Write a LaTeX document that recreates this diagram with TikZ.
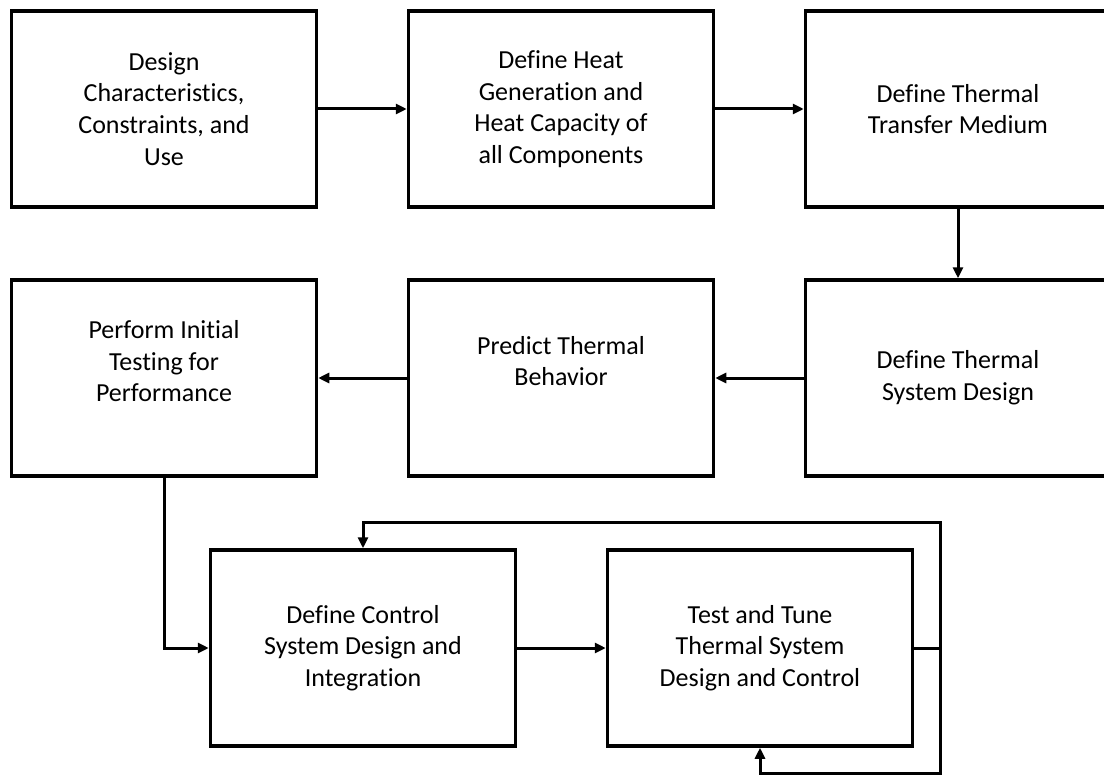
\documentclass[tikz,border=0pt]{standalone}
\usepackage{fontspec}
\setmainfont{Carlito}[Ligatures=NoCommon]
\usepackage{tikz}
\usetikzlibrary{arrows.meta}

\begin{document}
\begin{tikzpicture}[x=1pt, y=-1pt, ->, >={Triangle[length=11pt,width=10pt]}, line width=3pt]
        \tikzstyle{stage}=[draw=black, line width=3.5pt, fill=white, minimum width=305pt, minimum height=196pt, align=center, font=\fontsize{26}{31.7}\selectfont]
        \tikzstyle{raised}=[text depth=34pt]

        \clip (0,0) rectangle (1104,776);

        \node[stage] (design) at (164,109) {Design\\Characteristics,\\Constraints, and\\Use};
        \node[stage] (heat) at (561,109) {Define Heat\\Generation and\\Heat Capacity of\\all Components};
        \node[stage] (medium) at (958,109) {Define Thermal\\Transfer Medium};
        \node[stage, raised] (testing) at (164,378) {Perform Initial\\Testing for\\Performance};
        \node[stage, raised] (predict) at (561,378) {Predict Thermal\\Behavior};
        \node[stage] (system) at (958,378) {Define Thermal\\System Design};
        \node[stage] (control) at (363,648) {Define Control\\System Design and\\Integration};
        \node[stage] (tune) at (760,648) {Test and Tune\\Thermal System\\Design and Control};

        \coordinate (split) at (940,648);

        \path (design) edge (heat)
              (heat) edge (medium)
              (medium) edge (system)
              (system) edge (predict)
              (predict) edge (testing)
              (control) edge (tune);
        \draw (testing.south) |- (control.west);
        \draw[-] (tune.east) -- (split);
        \draw (split) |- ([yshift=26pt]control.north) -- (control.north);
        \draw (split) |- ([yshift=-26pt]tune.south) -- (tune.south);
    \end{tikzpicture}
\end{document}
